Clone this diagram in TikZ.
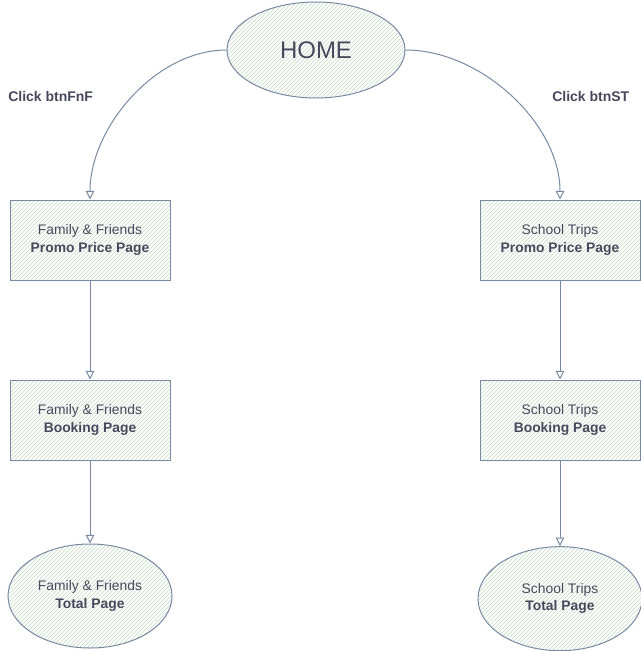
\documentclass[tikz,border=0pt]{standalone}
\usepackage{fontspec}
\setmainfont{Liberation Sans}
\usetikzlibrary{positioning,patterns,arrows.meta,shapes.geometric}
\definecolor{linegray}{HTML}{788AA3}
\definecolor{hatchgreen}{HTML}{C5DBC2}
\definecolor{textgray}{HTML}{46495D}

\begin{document}
\begin{tikzpicture}[x=0.75pt,y=-0.75pt,node distance=135pt,on grid,
  >={Triangle[open,length=6.5pt,width=6.5pt]},
  every node/.style={text=textgray,align=center,font=\fontsize{10.4}{13}\selectfont},
  page/.style={draw=linegray,line width=0.75pt,pattern=north east lines,pattern color=hatchgreen,
    minimum width=120pt,minimum height=60pt,inner sep=0pt},
  total/.style={page,ellipse,minimum width=123pt,minimum height=78pt},
  click/.style={anchor=west,inner sep=0pt,font=\fontsize{10.5}{12}\selectfont\bfseries}]
   \useasboundingbox (0,0) rectangle (641,651);
   \node[total,minimum width=133.5pt,minimum height=72pt,font=\fontsize{18}{20}\selectfont] (home) at (316,50) {HOME};
   \node[page] (fnf_promo) at (90,240) {Family \& Friends\\\textbf{Promo Price Page}};
   \node[page] (st_promo) at (560,240) {School Trips\\\textbf{Promo Price Page}};
   \node[page] (fnf_book) [below=of fnf_promo] {Family \& Friends\\\textbf{Booking Page}};
   \node[page] (st_book) [below=of st_promo] {School Trips\\\textbf{Booking Page}};
   \node[total] (fnf_total) [below=132pt of fnf_book] {Family \& Friends\\\textbf{Total Page}};
   \node[total] (st_total) [below=134pt of st_book] {School Trips\\\textbf{Total Page}};
   \node[click] (click_fnf) at (8,96) {Click btnFnF};
   \node[click] (click_st) at (552,96) {Click btnST};
    \path[->,color=linegray,line width=0.75pt]
    (home.west) edge [out=180,in=90,looseness=0.9] (fnf_promo.north)
    (home.east) edge [out=0,in=90,looseness=0.9] (st_promo.north)
    (fnf_promo) edge (fnf_book)
    (st_promo) edge (st_book)
    (fnf_book) edge (fnf_total)
    (st_book) edge (st_total);
\end{tikzpicture}
\end{document}
